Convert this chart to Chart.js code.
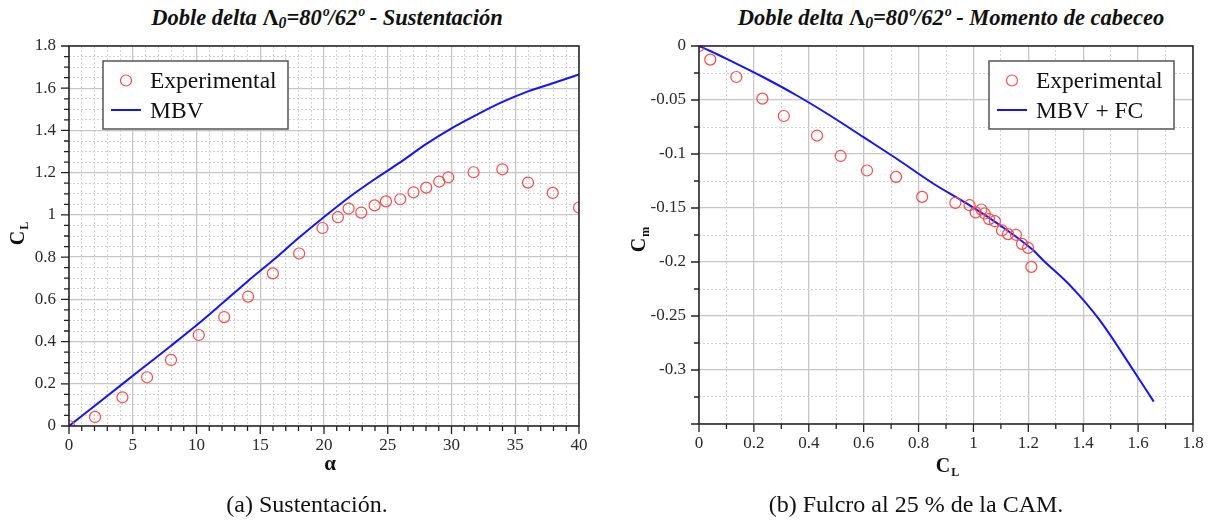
<!DOCTYPE html>
<html>
<head>
<meta charset="utf-8">
<script src="https://cdn.jsdelivr.net/npm/chart.js@4.4.1/dist/chart.umd.min.js"></script>
<style>
  body { margin: 0; background: #fff; width: 1215px; height: 527px; position: relative; overflow: hidden; font-family: "Liberation Serif", "Times New Roman", serif; color: #111; }
  .panel { position: absolute; top: 0; height: 527px; }
  #panelLift { left: 0; width: 600px; }
  #panelMoment { left: 600px; width: 615px; }
  .title { position: absolute; top: 5px; font: italic bold 22.5px "Liberation Serif", serif; white-space: nowrap; transform: translateX(-50%); line-height: 26px; }
  .title .lam { font-style: normal; }
  .title sub { font-size: 0.7em; vertical-align: -0.2em; line-height: 0; }
  .caption { position: absolute; top: 492px; font: 24px "Liberation Serif", serif; white-space: nowrap; transform: translateX(-50%); line-height: 25px; }
</style>
</head>
<body>
<div class="title" style="left:327px">Doble delta <span class="lam">Λ</span><sub>0</sub>=80º/62º - Sustentación</div>
<div class="title" style="left:951px">Doble delta <span class="lam">Λ</span><sub>0</sub>=80º/62º - Momento de cabeceo</div>
<div class="panel" id="panelLift"><canvas id="liftChart" width="600" height="527"></canvas></div>
<div class="panel" id="panelMoment"><canvas id="momentChart" width="615" height="527"></canvas></div>
<div class="caption" style="left:307px">(a) Sustentación.</div>
<div class="caption" style="left:916px">(b) Fulcro al 25 % de la CAM.</div>
<script>
// Lift curve: experimental points
const expAlpha = [0, 2.04, 4.19, 6.12, 8.0, 10.18, 12.17, 14.05, 15.99, 18.05, 19.88, 21.09, 21.93, 22.92,
  23.97, 24.86, 25.98, 27.02, 28.02, 29.04, 29.75, 31.73, 33.99, 36.0, 37.94, 40.0];
const expCL = [0, 0.043, 0.136, 0.231, 0.313, 0.431, 0.516, 0.613, 0.723, 0.817, 0.938, 0.989, 1.030, 1.011,
  1.045, 1.064, 1.074, 1.107, 1.129, 1.158, 1.178, 1.202, 1.216, 1.153, 1.104, 1.035];

// Lift curve: vortex lattice model (MBV)
const mbvAlpha = [0, 2, 4, 6, 8, 10, 12, 14, 16, 18, 20, 22, 24, 26, 28, 30, 32, 34, 36, 38, 40];
const mbvCL = [0, 0.095, 0.19, 0.285, 0.38, 0.477, 0.58, 0.685, 0.785, 0.89, 0.99, 1.085, 1.17, 1.25,
  1.335, 1.41, 1.475, 1.535, 1.585, 1.625, 1.665];

// Pitching moment: experimental points
const expMomCL = [0, 0.041, 0.136, 0.231, 0.309, 0.430, 0.516, 0.612, 0.718, 0.813, 0.934, 0.986, 1.008,
  1.029, 1.041, 1.057, 1.078, 1.104, 1.126, 1.155, 1.177, 1.199, 1.211];
const expCm = [0, -0.0126, -0.0287, -0.0487, -0.0648, -0.0829, -0.1018, -0.1153, -0.1212, -0.1397, -0.1452,
  -0.1474, -0.1541, -0.1514, -0.1551, -0.1603, -0.1622, -0.1708, -0.1742, -0.1748, -0.1832, -0.1869, -0.2045];

// Pitching moment: MBV + leading-edge suction (FC)
const fcCL = [0, 0.041, 0.112, 0.233, 0.355, 0.476, 0.598, 0.719, 0.853, 0.975, 1.096, 1.217, 1.254,
  1.357, 1.460, 1.582, 1.657];
const fcCm = [0, -0.0046, -0.0133, -0.0287, -0.0456, -0.0641, -0.0842, -0.1042, -0.1273, -0.1458, -0.1659,
  -0.189, -0.1983, -0.223, -0.2538, -0.300, -0.3293];

// Axis ranges and tick steps
const liftX = { min: 0, max: 40, minor: 1, major: 5 };
const liftY = { min: 0, max: 1.8, minor: 0.05, major: 0.2 };
const momX = { min: 0, max: 1.8, minor: 0.1, major: 0.2 };
const momY = { min: -0.35, max: 0, minor: 0.025, major: 0.05, labelFloor: -0.3 };

const RED = '#ff4a4a';
const BLUE = '#1414ff';
const SERIF = '"Liberation Serif", "Times New Roman", serif';

function isMajor(v, step) {
  const r = v / step;
  return Math.abs(r - Math.round(r)) < 1e-6;
}
function fmt(v) {
  const s = String(parseFloat(v.toFixed(3)));
  return s === '-0' ? '0' : s;
}
function pts(xs, ys) {
  return xs.map((x, i) => ({ x: x, y: ys[i] }));
}

function axis(range, pos, fitSize) {
  return {
    type: 'linear',
    position: pos,
    min: range.min,
    max: range.max,
    afterFit: s => { if (pos === 'left') s.width = fitSize; else s.height = fitSize; },
    ticks: {
      stepSize: range.minor,
      autoSkip: false,
      maxRotation: 0,
      padding: pos === 'left' ? 13 : 9,
      color: '#2a2a2a',
      font: { family: SERIF, size: 17 },
      callback: v => {
        if (!isMajor(v, range.major)) return '';
        if (range.labelFloor !== undefined && v < range.labelFloor - 1e-9) return '';
        return fmt(v);
      }
    },
    grid: {
      drawTicks: false,
      color: c => isMajor(c.tick.value, range.major) ? '#c6c6c6' : '#d2d2d2',
      lineWidth: c => isMajor(c.tick.value, range.major) ? 1.3 : 1
    },
    border: {
      display: false,
      dash: c => (c.tick && !isMajor(c.tick.value, range.major)) ? [2, 2] : []
    }
  };
}

// frame around the plot plus outward tick marks (long on major, short on minor)
const frameTicks = {
  id: 'frameTicks',
  afterDatasetsDraw(chart, args, opts) {
    const ctx = chart.ctx;
    const a = chart.chartArea;
    const xs = chart.scales.x, ys = chart.scales.y;
    ctx.save();
    ctx.strokeStyle = '#222';
    ctx.lineWidth = 1.3;
    ctx.beginPath();
    xs.ticks.forEach(t => {
      const p = xs.getPixelForValue(t.value);
      const len = isMajor(t.value, opts.xMajor) ? 8 : 5;
      ctx.moveTo(p, a.bottom);
      ctx.lineTo(p, a.bottom + len);
    });
    ys.ticks.forEach(t => {
      const p = ys.getPixelForValue(t.value);
      const len = isMajor(t.value, opts.yMajor) ? 8 : 5;
      ctx.moveTo(a.left, p);
      ctx.lineTo(a.left - len, p);
    });
    ctx.stroke();
    ctx.lineWidth = 1.5;
    ctx.strokeRect(a.left, a.top, a.right - a.left, a.bottom - a.top);
    ctx.restore();
  }
};

// boxed legend placed inside the plot
const boxLegend = {
  id: 'boxLegend',
  afterDraw(chart, args, opts) {
    const ctx = chart.ctx;
    const b = opts.box;
    ctx.save();
    ctx.fillStyle = '#fff';
    ctx.fillRect(b.x, b.y, b.w, b.h);
    ctx.strokeStyle = '#555';
    ctx.lineWidth = 1.5;
    ctx.strokeRect(b.x, b.y, b.w, b.h);
    const ds = chart.data.datasets;
    ctx.font = '23.5px ' + SERIF;
    ctx.fillStyle = '#111';
    ctx.textBaseline = 'alphabetic';
    // marker entry
    ctx.strokeStyle = ds[0].borderColor;
    ctx.lineWidth = ds[0].borderWidth;
    ctx.beginPath();
    ctx.arc(b.x + 23, b.y + 19.5, ds[0].pointRadius, 0, Math.PI * 2);
    ctx.stroke();
    ctx.fillText(ds[0].label, b.x + 47, b.y + 27);
    // line entry
    ctx.strokeStyle = ds[1].borderColor;
    ctx.lineWidth = ds[1].borderWidth;
    ctx.beginPath();
    ctx.moveTo(b.x + 8, b.y + 49);
    ctx.lineTo(b.x + 38, b.y + 49);
    ctx.stroke();
    ctx.fillText(ds[1].label, b.x + 47, b.y + 57);
    ctx.restore();
  }
};

// axis titles with subscripts
function drawSub(ctx, main, sub, cx, cy, size, rotated) {
  ctx.save();
  ctx.translate(cx, cy);
  if (rotated) ctx.rotate(-Math.PI / 2);
  const big = 'bold ' + size + 'px ' + SERIF;
  const small = 'bold ' + Math.round(size * 0.62) + 'px ' + SERIF;
  ctx.font = big;
  const w1 = ctx.measureText(main).width;
  ctx.font = small;
  const w2 = sub ? ctx.measureText(sub).width : 0;
  const x0 = -(w1 + w2) / 2;
  ctx.fillStyle = '#111';
  ctx.textBaseline = 'alphabetic';
  ctx.font = big;
  ctx.fillText(main, x0, size * 0.33);
  if (sub) {
    ctx.font = small;
    ctx.fillText(sub, x0 + w1 + 1, size * 0.33 + size * 0.22);
  }
  ctx.restore();
}
const axisTitles = {
  id: 'axisTitles',
  afterDraw(chart, args, opts) {
    const ctx = chart.ctx;
    opts.items.forEach(it => drawSub(ctx, it.main, it.sub, it.x, it.y, it.size, it.rotated));
  }
};

function datasets(expLabel, expX, expY, lineLabel, lineX, lineY) {
  return [
    {
      label: expLabel,
      data: pts(expX, expY),
      showLine: false,
      pointStyle: 'circle',
      pointRadius: 5.5,
      pointHoverRadius: 5.5,
      borderColor: RED,
      backgroundColor: 'rgba(0,0,0,0)',
      borderWidth: 1.2
    },
    {
      label: lineLabel,
      data: pts(lineX, lineY),
      showLine: true,
      pointRadius: 0,
      borderColor: BLUE,
      backgroundColor: BLUE,
      borderWidth: 2,
      cubicInterpolationMode: 'monotone'
    }
  ];
}

function baseOptions(padRight, xAxis, yAxis, xFit, yFit) {
  return {
    responsive: false,
    animation: false,
    events: [],
    layout: { padding: { left: 0, top: 46, right: padRight, bottom: 0 } },
    scales: {
      x: axis(xAxis, 'bottom', xFit),
      y: axis(yAxis, 'left', yFit)
    }
  };
}

const liftOpts = baseOptions(21, liftX, liftY, 101, 69);
liftOpts.plugins = {
  legend: { display: false },
  tooltip: { enabled: false },
  frameTicks: { xMajor: liftX.major, yMajor: liftY.major },
  boxLegend: { box: { x: 103, y: 61, w: 185, h: 68 } },
  axisTitles: { items: [
    { main: 'α', sub: '', x: 330, y: 463, size: 21, rotated: false },
    { main: 'C', sub: 'L', x: 17, y: 234, size: 20, rotated: true }
  ] }
};

new Chart(document.getElementById('liftChart'), {
  type: 'scatter',
  data: { datasets: datasets('Experimental', expAlpha, expCL, 'MBV', mbvAlpha, mbvCL) },
  options: liftOpts,
  plugins: [frameTicks, boxLegend, axisTitles]
});

const momOpts = baseOptions(22, momX, momY, 103, 99);
momOpts.plugins = {
  legend: { display: false },
  tooltip: { enabled: false },
  frameTicks: { xMajor: momX.major, yMajor: momY.major },
  boxLegend: { box: { x: 389, y: 61, w: 185, h: 68 } },
  axisTitles: { items: [
    { main: 'C', sub: 'L', x: 347, y: 465, size: 20, rotated: false },
    { main: 'C', sub: 'm', x: 38, y: 240, size: 20, rotated: true }
  ] }
};

new Chart(document.getElementById('momentChart'), {
  type: 'scatter',
  data: { datasets: datasets('Experimental', expMomCL, expCm, 'MBV + FC', fcCL, fcCm) },
  options: momOpts,
  plugins: [frameTicks, boxLegend, axisTitles]
});
</script>
</body>
</html>
